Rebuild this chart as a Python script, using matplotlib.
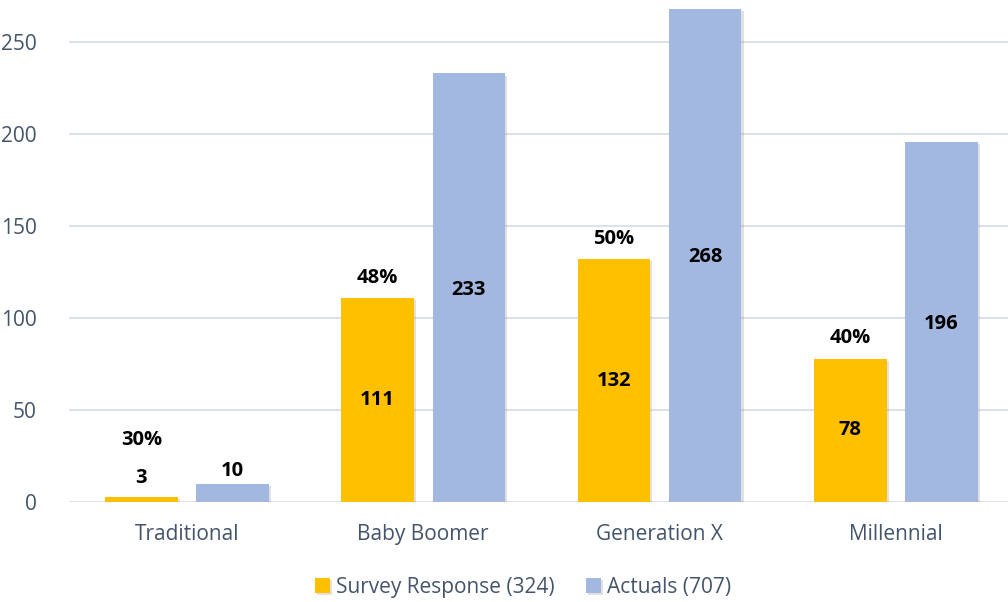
import numpy as np
import matplotlib.pyplot as plt
import matplotlib.patheffects as pe

categories = ["Traditional", "Baby Boomer", "Generation X", "Millennial"]
survey = [3, 111, 132, 78]
actuals = [10, 233, 268, 196]
pct_labels = ["30%", "48%", "50%", "40%"]
survey_label = "Survey Response (324)"
actuals_label = "Actuals (707)"

plt.rcParams["font.family"] = ["Open Sans", "DejaVu Sans"]

text_col = "#44546A"
grid_col = "#DDE2EA"
survey_col = "#FFC000"
actuals_col = "#A2B8E0"

fig = plt.figure(figsize=(10.08, 6.02), dpi=100)
ax = fig.add_axes([0.0682, 0.166, 0.9378, 0.825])

x = np.arange(len(categories))
w = 0.307
off = 0.193
shadow = [pe.SimplePatchShadow(offset=(1.5, -1.5), shadow_rgbFace="#888888", alpha=0.25), pe.Normal()]

b1 = ax.bar(x - off, survey, w, color=survey_col, label=survey_label, zorder=3)
b2 = ax.bar(x + off, actuals, w, color=actuals_col, label=actuals_label, zorder=3)
for p in list(b1) + list(b2):
    p.set_path_effects(shadow)

# value labels: centred in the bar, or above it when the bar is too short
lbl = dict(ha="center", va="center", fontsize=14.5, fontweight="bold", color="black", zorder=5)
for xi, s, a, pct in zip(x, survey, actuals, pct_labels):
    if s < 20:
        ax.text(xi - off, s + 10, str(s), **lbl)
        ax.text(xi - off, s + 31, pct, **lbl)
    else:
        ax.text(xi - off, s / 2, str(s), **lbl)
        ax.text(xi - off, s + 11, pct, **lbl)
    if a < 20:
        ax.text(xi + off, a + 7, str(a), **lbl)
    else:
        ax.text(xi + off, a / 2 - 1, str(a), **lbl)

ax.set_xlim(-0.5, len(categories) - 0.5)
ax.set_ylim(0, 270)
ax.set_yticks(np.arange(0, 251, 50))
ax.set_xticks(x)
ax.set_xticklabels(categories)
ax.grid(axis="y", color=grid_col, linewidth=1.5, zorder=0)
ax.tick_params(axis="both", length=0, labelsize=15, labelcolor=text_col)
ax.tick_params(axis="x", pad=16)
ax.tick_params(axis="y", pad=23)
for sp in ax.spines.values():
    sp.set_visible(False)

fig.legend(loc="lower center", bbox_to_anchor=(0.519, -0.024), ncol=2, frameon=False,
           fontsize=15, labelcolor=text_col, handlelength=0.7, handleheight=0.7,
           handletextpad=0.3, columnspacing=1.5)

fig.savefig("out.png", dpi=100)
